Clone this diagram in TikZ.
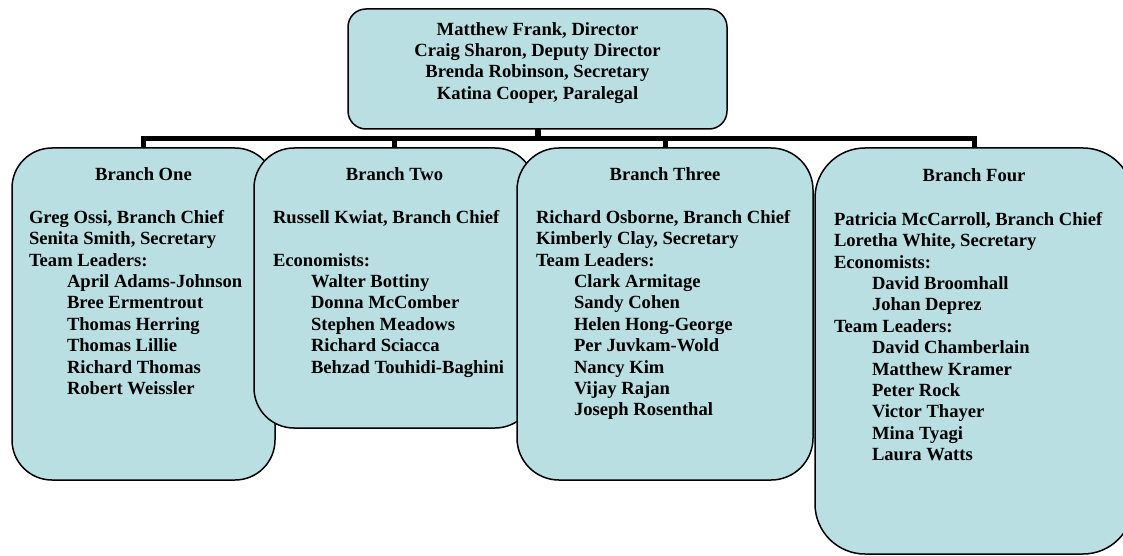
\documentclass[tikz,border=0pt]{standalone}
\usepackage{fontspec}
\setmainfont{Liberation Serif}
\definecolor{boxfill}{RGB}{185,223,227}
\tikzset{
  box/.style={draw=black, line width=1.5pt, fill=boxfill, inner sep=0pt, outer sep=0pt, anchor=north west},
  txt/.style={font=\bfseries\fontsize{18.6}{21.4}\selectfont, inner sep=0pt, outer sep=0pt},
  lst/.style={txt, align=left, anchor=north west},
  bus/.style={line width=5pt, miter limit=10},
}
\newcommand{\ind}{\hspace*{38pt}}
\begin{document}
\begin{tikzpicture}[x=1pt,y=-1pt]
\useasboundingbox (0,0) rectangle (1123,556);
% boxes
\node[box, rounded corners=18pt, minimum width=379pt, minimum height=120pt] (top) at (348,9) {};
\node[box, rounded corners=40pt, minimum width=263pt, minimum height=332pt] (b1) at (12,148) {};
\node[box, rounded corners=40pt, minimum width=281pt, minimum height=280pt] (b2) at (254,148) {};
\node[box, rounded corners=42pt, minimum width=296pt, minimum height=332pt] (b3) at (517,148) {};
\node[box, rounded corners=50pt, minimum width=318pt, minimum height=406pt] (b4) at (815,148) {};
% connectors
\coordinate (bus) at (537.5,138.5);
\draw[bus] (b1.north) -- (b1.north |- bus) -- (b4.north |- bus) -- (b4.north);
\draw[bus] (b2.north) -- (b2.north |- bus);
\draw[bus] (b3.north) -- (b3.north |- bus);
\draw[line width=6pt] (top.south) -- (top.south |- bus);
% texts
\node[txt, align=center, anchor=north] (toptext) at (537.5,22.2)
  {Matthew Frank, Director\\Craig Sharon, Deputy Director\\Brenda Robinson, Secretary\\Katina Cooper, Paralegal};
\node[txt, anchor=base] (t1) at (143.5,181) {Branch One};
\node[txt, anchor=base] (t2) at (394.5,181) {Branch Two};
\node[txt, anchor=base] (t3) at (665,181) {Branch Three};
\node[txt, anchor=base] (t4) at (974,182) {Branch Four};
\node[lst] (l1) at (29,210.2) {Greg Ossi, Branch Chief\\Senita Smith, Secretary\\Team Leaders:\\
  \ind April Adams-Johnson\\\ind Bree Ermentrout\\\ind Thomas Herring\\\ind Thomas Lillie\\\ind Richard Thomas\\\ind Robert Weissler};
\node[lst] (l2) at (273,210.2) {Russell Kwiat, Branch Chief\\[21.4pt]Economists:\\
  \ind Walter Bottiny\\\ind Donna McComber\\\ind Stephen Meadows\\\ind Richard Sciacca\\\ind Behzad Touhidi-Baghini};
\node[lst] (l3) at (536,210.2) {Richard Osborne, Branch Chief\\Kimberly Clay, Secretary\\Team Leaders:\\
  \ind Clark Armitage\\\ind Sandy Cohen\\\ind Helen Hong-George\\\ind Per Juvkam-Wold\\\ind Nancy Kim\\\ind Vijay Rajan\\\ind Joseph Rosenthal};
\node[lst] (l4) at (834,212.2) {Patricia McCarroll, Branch Chief\\Loretha White, Secretary\\Economists:\\
  \ind David Broomhall\\\ind Johan Deprez\\Team Leaders:\\
  \ind David Chamberlain\\\ind Matthew Kramer\\\ind Peter Rock\\\ind Victor Thayer\\\ind Mina Tyagi\\\ind Laura Watts};
\end{tikzpicture}
\end{document}
